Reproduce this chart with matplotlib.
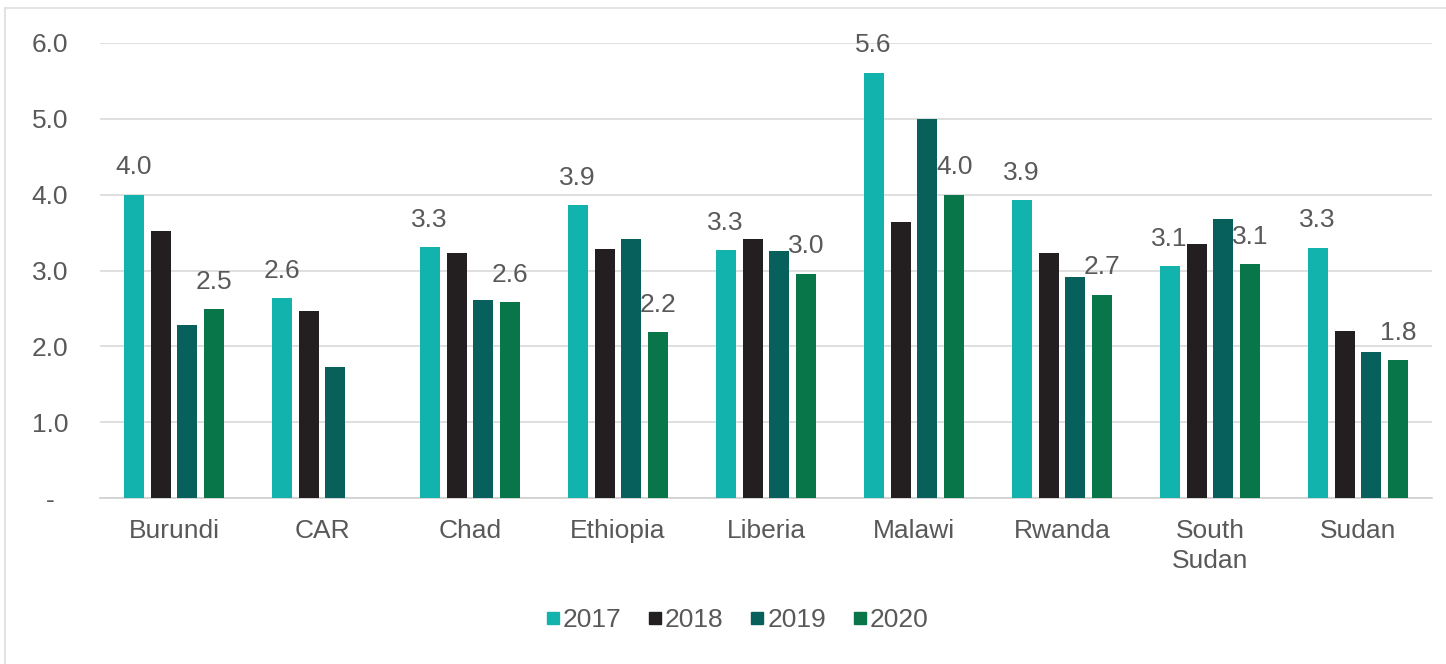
import matplotlib
matplotlib.use("Agg")
import matplotlib.pyplot as plt
from matplotlib.lines import Line2D
import numpy as np

plt.rcParams['font.family'] = ['Liberation Sans', 'DejaVu Sans']

categories = ["Burundi", "CAR", "Chad", "Ethiopia", "Liberia", "Malawi", "Rwanda", "South\nSudan", "Sudan"]
years = ["2017", "2018", "2019", "2020"]
v2017 = [4.00, 2.64, 3.31, 3.86, 3.27, 5.61, 3.93, 3.06, 3.30]
v2018 = [3.52, 2.47, 3.23, 3.28, 3.42, 3.64, 3.23, 3.35, 2.20]
v2019 = [2.28, 1.73, 2.61, 3.42, 3.26, 5.00, 2.92, 3.68, 1.92]
v2020 = [2.49, np.nan, 2.58, 2.19, 2.96, 4.00, 2.68, 3.08, 1.82]
series = [v2017, v2018, v2019, v2020]
colors = ["#12b3ac", "#231f20", "#07605b", "#087648"]
labeled = [True, False, False, True]
yticks = [0, 1, 2, 3, 4, 5, 6]
ytick_labels = ["-", "1.0", "2.0", "3.0", "4.0", "5.0", "6.0"]

text_color = "#595959"
fs = 19
W, H = 1446, 664
fig = plt.figure(figsize=(W / 100, H / 100), dpi=100)
ax = fig.add_axes([100 / W, 1 - 498 / H, (1432 - 100) / W, (498 - 43) / H])

x = np.arange(len(categories))
step = 0.182
width = 0.135
for i, (vals, col) in enumerate(zip(series, colors)):
    pos = x + (i - 1.5) * step
    ax.bar(pos, vals, width=width, color=col, zorder=3, label=years[i])
    if labeled[i]:
        for p, v in zip(pos, vals):
            if np.isnan(v):
                continue
            ax.annotate(f"{v:.1f}", (p, v), xytext=(0, 11), textcoords="offset points",
                        ha="center", va="bottom", fontsize=fs, color=text_color,
                        zorder=2, annotation_clip=False)

ax.set_xlim(-0.5, len(categories) - 0.5)
ax.set_ylim(0, 6)
ax.set_yticks(yticks)
ax.set_yticklabels(ytick_labels, fontsize=fs, color=text_color, ha="center")
ax.set_xticks(x)
ax.set_xticklabels(categories, fontsize=fs, color=text_color, linespacing=1.35)
ax.tick_params(axis="y", length=0, pad=36)
ax.tick_params(axis="x", length=0, pad=15)
ax.yaxis.grid(True, color="#d9d9d9", linewidth=1.2, zorder=0)
ax.set_axisbelow(True)
for s in ["top", "right", "left"]:
    ax.spines[s].set_visible(False)
ax.spines["bottom"].set_color("#d0d0d0")
ax.spines["bottom"].set_linewidth(1.2)

handles = [Line2D([], [], marker="s", linestyle="none", markersize=8.5,
                  markerfacecolor=c, markeredgecolor=c) for c in colors]
fig.legend(handles, years, loc="center", bbox_to_anchor=(737 / W, 1 - 620 / H),
           ncol=4, frameon=False, fontsize=fs, labelcolor=text_color,
           handlelength=0.55, handletextpad=0.1, columnspacing=1.0)

# outer frame (left and top edges visible)
fig.add_artist(Line2D([5 / W, 5 / W], [0, 1 - 8 / H], color="#e3e3e3", linewidth=1.5))
fig.add_artist(Line2D([5 / W, 1], [1 - 8 / H, 1 - 8 / H], color="#e3e3e3", linewidth=1.5))

fig.savefig("out.png", dpi=100, facecolor="white")
